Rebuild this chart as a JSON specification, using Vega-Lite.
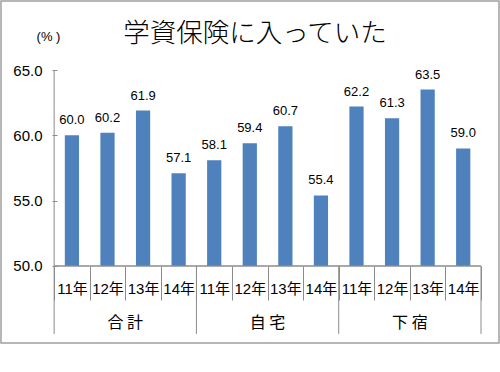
{
  "$schema": "https://vega.github.io/schema/vega-lite/v6.json",
  "width": 498,
  "height": 342,
  "autosize": {"type": "none"},
  "padding": {"left": 1, "top": 1, "right": 1, "bottom": 29},
  "background": "white",
  "config": {
    "view": {"stroke": "#a0a0a0", "strokeWidth": 1.5},
    "font": "Liberation Sans, Noto Sans CJK JP"
  },
  "title": {
    "text": "学資保険に入っていた",
    "font": "Noto Sans CJK JP",
    "fontSize": 26.5,
    "fontWeight": 300,
    "color": "#000000",
    "anchor": "middle",
    "dx": 5,
    "offset": -46
  },
  "data": {
    "values": [
      {"id": "合計11年", "group": "合 計", "year": "11年", "value": 60.0},
      {"id": "合計12年", "group": "合 計", "year": "12年", "value": 60.2},
      {"id": "合計13年", "group": "合 計", "year": "13年", "value": 61.9},
      {"id": "合計14年", "group": "合 計", "year": "14年", "value": 57.1},
      {"id": "自宅11年", "group": "自 宅", "year": "11年", "value": 58.1},
      {"id": "自宅12年", "group": "自 宅", "year": "12年", "value": 59.4},
      {"id": "自宅13年", "group": "自 宅", "year": "13年", "value": 60.7},
      {"id": "自宅14年", "group": "自 宅", "year": "14年", "value": 55.4},
      {"id": "下宿11年", "group": "下 宿", "year": "11年", "value": 62.2},
      {"id": "下宿12年", "group": "下 宿", "year": "12年", "value": 61.3},
      {"id": "下宿13年", "group": "下 宿", "year": "13年", "value": 63.5},
      {"id": "下宿14年", "group": "下 宿", "year": "14年", "value": 59.0}
    ]
  },
  "encoding": {
    "x": {
      "field": "id",
      "type": "nominal",
      "sort": null,
      "scale": {"paddingInner": 0, "paddingOuter": 1.064, "align": 0.747},
      "axis": {
        "title": null,
        "orient": "bottom",
        "offset": -77,
        "domain": false,
        "tickBand": "extent",
        "tickSize": 34,
        "tickColor": "#8c8c8c",
        "tickWidth": 1,
        "labelAngle": 0,
        "labelExpr": "slice(datum.label, -3)",
        "labelFontSize": 15,
        "labelColor": "#000000",
        "labelBaseline": "middle",
        "labelPadding": -12,
        "labelFont": "Liberation Sans, Noto Sans CJK JP"
      }
    }
  },
  "layer": [
    {
      "mark": {"type": "bar", "color": "#4f81bd", "width": {"band": 0.4}},
      "encoding": {
        "y": {
          "field": "value",
          "type": "quantitative",
          "scale": {"domain": [44.107, 70.281], "nice": false, "zero": false},
          "axis": {
            "values": [50, 55, 60, 65],
            "format": ".1f",
            "offset": -56,
            "domain": false,
            "grid": false,
            "tickSize": 5,
            "tickColor": "#8c8c8c",
            "labelFontSize": 15,
            "labelColor": "#000000",
            "labelPadding": 10,
            "title": "(% )",
            "titleAngle": 0,
            "titleFontSize": 13,
            "titleFontWeight": "normal",
            "titleColor": "#000000",
            "titleAlign": "center",
            "titleBaseline": "middle",
            "titleX": -9,
            "titleY": 35
          }
        },
        "y2": {"datum": 50}
      }
    },
    {
      "mark": {"type": "text", "fontSize": 13, "color": "#000000", "baseline": "alphabetic", "dy": -11},
      "encoding": {
        "y": {"field": "value", "type": "quantitative"},
        "text": {"field": "value", "type": "quantitative", "format": ".1f"}
      }
    },
    {
      "mark": {"type": "bar", "width": {"band": 1}, "fill": null, "stroke": "#8c8c8c", "strokeWidth": 1},
      "encoding": {
        "y": {"datum": 50},
        "y2": {"datum": 50}
      }
    },
    {
      "transform": [{"filter": "datum.id === '合計11年'"}],
      "mark": {"type": "rule", "color": "#8c8c8c", "strokeWidth": 1},
      "encoding": {
        "x": {"field": "id", "type": "nominal", "sort": null, "bandPosition": 0},
        "y": {"datum": 65},
        "y2": {"datum": 44.8}
      }
    },
    {
      "transform": [{"filter": "datum.year === '14年'"}],
      "mark": {"type": "rule", "color": "#8c8c8c", "strokeWidth": 1},
      "encoding": {
        "x": {"field": "id", "type": "nominal", "sort": null, "bandPosition": 1},
        "y": {"datum": 50},
        "y2": {"datum": 44.8}
      }
    },
    {
      "transform": [{"filter": "datum.year === '12年'"}],
      "mark": {"type": "text", "font": "Noto Sans CJK JP", "fontSize": 16, "color": "#000000", "baseline": "middle", "dy": 57},
      "encoding": {
        "x": {"field": "id", "type": "nominal", "sort": null, "bandPosition": 1},
        "y": {"datum": 50},
        "text": {"field": "group"}
      }
    }
  ]
}
